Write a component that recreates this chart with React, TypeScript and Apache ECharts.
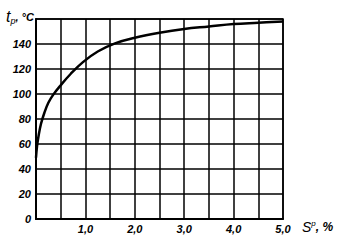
import React, { useEffect, useRef } from "react";
import * as echarts from "echarts";

const sValues = [0, 0.02, 0.05, 0.1, 0.17, 0.25, 0.35, 0.5, 0.7, 0.95, 1.25, 1.6, 2.0, 2.5, 3.0, 3.5, 4.0, 4.5, 5.0];
const tValues = [49, 58, 66, 76, 85, 93, 99.5, 107, 116, 125.5, 134, 140.5, 145, 149, 152, 154, 156, 157, 158];
const yTicks = [0, 20, 40, 60, 80, 100, 120, 140];
const xTickLabels = ["1,0", "2,0", "3,0", "4,0", "5,0"];

const FONT = "Liberation Sans";

export default function App() {
  const ref = useRef<HTMLDivElement>(null);
  useEffect(() => {
    const chart = echarts.init(ref.current!, null, { renderer: "svg" });
    const data = sValues.map((s, i) => [s, tValues[i]]);
    chart.setOption({
      animation: false,
      backgroundColor: "#ffffff",
      grid: { left: 36, top: 19, right: 58, bottom: 23 },
      xAxis: {
        type: "value",
        min: 0,
        max: 5,
        interval: 0.5,
        axisLine: { show: true, onZero: false, lineStyle: { color: "#000", width: 2 } },
        axisTick: { show: false },
        splitLine: { show: true, lineStyle: { color: "#000", width: 1.5 } },
        axisLabel: {
          color: "#000",
          fontFamily: FONT,
          fontStyle: "italic",
          fontWeight: "bold",
          fontSize: 11,
          margin: 4,
          showMinLabel: true,
          showMaxLabel: true,
          formatter: (v: number) => {
            const idx = Math.round(v) - 1;
            return Math.abs(v - Math.round(v)) < 1e-6 && v > 0 ? xTickLabels[idx] : "";
          },
        },
      },
      yAxis: {
        type: "value",
        min: 0,
        max: 160,
        interval: 20,
        axisLine: { show: true, lineStyle: { color: "#000", width: 2 } },
        axisTick: { show: false },
        splitLine: { show: true, lineStyle: { color: "#000", width: 1.5 } },
        axisLabel: {
          color: "#000",
          fontFamily: FONT,
          fontStyle: "italic",
          fontWeight: "bold",
          fontSize: 11,
          margin: 5,
          formatter: (v: number) => (yTicks.includes(v) ? String(v) : ""),
        },
      },
      graphic: [
        {
          type: "rect",
          shape: { x: 36, y: 19, width: 247, height: 200 },
          style: { fill: "none", stroke: "#000", lineWidth: 1.5 },
          silent: true,
        },
        {
          type: "text",
          x: 6,
          y: 8,
          style: {
            text: "{t|t}{p|p}{r|, °C}",
            fill: "#000",
            rich: {
              t: { fontFamily: FONT, fontStyle: "italic", fontSize: 16, fill: "#000" },
              p: { fontFamily: FONT, fontStyle: "italic", fontSize: 9, fill: "#000", padding: [8, 0, 0, 0] },
              r: { fontFamily: FONT, fontStyle: "italic", fontWeight: "bold", fontSize: 11, fill: "#000" },
            },
          },
        },
        {
          type: "text",
          x: 302,
          y: 219,
          style: {
            text: "{s|S}{p|p}{r|, %}",
            fill: "#000",
            rich: {
              s: { fontFamily: FONT, fontStyle: "italic", fontSize: 14, fill: "#000" },
              p: { fontFamily: FONT, fontStyle: "italic", fontSize: 8, fill: "#000", padding: [0, 0, 8, 0] },
              r: { fontFamily: FONT, fontStyle: "italic", fontWeight: "bold", fontSize: 12, fill: "#000" },
            },
          },
        },
      ],
      series: [
        {
          type: "line",
          data,
          smooth: 0.4,
          symbol: "none",
          lineStyle: { color: "#000", width: 2.5 },
        },
      ],
    });
    return () => chart.dispose();
  }, []);
  return (
    <div
      ref={ref}
      style={{ position: "fixed", left: 0, top: 0, width: 341, height: 242, background: "#fff" }}
    />
  );
}
